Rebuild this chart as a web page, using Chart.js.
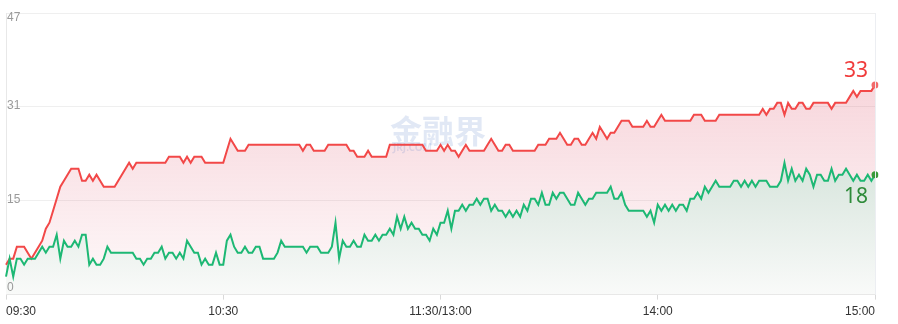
<!DOCTYPE html>
<html>
<head>
<meta charset="utf-8">
<script src="https://cdn.jsdelivr.net/npm/chart.js@4.4.0/dist/chart.umd.min.js"></script>
<style>
    html, body { margin: 0; padding: 0; background: #fff; }
    #wrap { width: 898px; height: 324px; }
</style>
</head>
<body>
<div id="wrap"><canvas id="mychart" width="898" height="324"></canvas></div>
<script>
// number of rising / falling stocks, one value per trading minute (09:30-11:30, 13:01-15:00)
const riseCount = [
    5, 6, 6, 8, 8, 8, 7, 6, 7, 8,
    9, 11, 12, 14, 16, 18, 19, 20, 21, 21,
    21, 19, 19, 20, 19, 20, 19, 18, 18, 18,
    18, 19, 20, 21, 22, 21, 22, 22, 22, 22,
    22, 22, 22, 22, 22, 23, 23, 23, 23, 22,
    23, 22, 23, 23, 23, 22, 22, 22, 22, 22,
    22, 24, 26, 25, 24, 24, 24, 25, 25, 25,
    25, 25, 25, 25, 25, 25, 25, 25, 25, 25,
    25, 25, 24, 25, 25, 24, 24, 24, 24, 25,
    25, 25, 25, 25, 25, 24, 24, 23, 23, 23,
    24, 23, 23, 23, 23, 23, 25, 25, 25, 25,
    25, 25, 25, 25, 25, 25, 24, 24, 24, 24,
    25, 24, 25, 24, 24, 23, 24, 25, 24, 24,
    24, 24, 24, 25, 26, 25, 24, 24, 25, 25,
    24, 24, 24, 24, 24, 24, 24, 25, 25, 25,
    26, 26, 26, 27, 26, 25, 25, 26, 26, 25,
    25, 26, 27, 26, 28, 27, 26, 27, 27, 28,
    29, 29, 29, 28, 28, 28, 28, 29, 28, 28,
    29, 30, 29, 29, 29, 29, 29, 29, 29, 29,
    30, 30, 30, 29, 29, 29, 29, 30, 30, 30,
    30, 30, 30, 30, 30, 30, 30, 30, 30, 31,
    30, 31, 31, 32, 32, 30, 32, 31, 31, 32,
    32, 31, 31, 32, 32, 32, 32, 32, 31, 32,
    32, 32, 32, 33, 34, 33, 34, 34, 34, 34,
    35
];
const fallCount = [
    3, 6, 3, 6, 6, 5, 6, 6, 6, 7,
    8, 7, 8, 8, 10, 6, 9, 8, 8, 9,
    8, 10, 10, 5, 6, 5, 5, 6, 8, 7,
    7, 7, 7, 7, 7, 7, 6, 6, 5, 6,
    6, 7, 7, 8, 6, 7, 7, 6, 7, 6,
    9, 8, 7, 7, 5, 6, 5, 5, 7, 5,
    5, 9, 10, 8, 7, 7, 8, 7, 7, 8,
    8, 6, 6, 6, 6, 7, 9, 8, 8, 8,
    8, 8, 8, 7, 8, 8, 8, 7, 7, 7,
    8, 12, 6, 9, 8, 8, 9, 8, 8, 10,
    9, 9, 10, 9, 10, 10, 11, 10, 13, 11,
    13, 11, 12, 11, 11, 10, 10, 9, 11, 10,
    12, 12, 14, 11, 14, 14, 15, 14, 15, 15,
    16, 15, 16, 16, 14, 15, 14, 14, 13, 14,
    13, 14, 13, 15, 14, 16, 16, 15, 17, 15,
    15, 17, 16, 17, 17, 16, 15, 15, 17, 16,
    15, 16, 16, 17, 17, 17, 17, 18, 16, 16,
    17, 15, 14, 14, 14, 14, 14, 13, 14, 12,
    15, 14, 15, 14, 15, 14, 15, 15, 14, 16,
    16, 17, 16, 18, 17, 18, 19, 18, 18, 18,
    18, 19, 19, 18, 19, 18, 19, 18, 19, 19,
    19, 18, 18, 18, 19, 22, 19, 21, 19, 20,
    19, 21, 20, 18, 20, 20, 19, 19, 21, 19,
    20, 20, 21, 20, 19, 20, 19, 19, 20, 19,
    20
];

const xTickIndex = [0, 60, 120, 180, 240];
const xTickText = ['09:30', '10:30', '11:30/13:00', '14:00', '15:00'];
const yTickValues = [0, 15.67, 31.33, 47];
const yTickText = ['0', '15', '31', '47'];
const endLabels = ['33', '18'];   // rise, fall

const RED = '#f24848';
const GREEN = '#1db874';

function pad2(n) { return (n < 10 ? '0' : '') + n; }

function buildMinuteLabels() {
    const out = [];
    for (let m = 9 * 60 + 30; m <= 11 * 60 + 30; m++) out.push(pad2(Math.floor(m / 60)) + ':' + pad2(m % 60));
    for (let m = 13 * 60 + 1; m <= 15 * 60; m++) out.push(pad2(Math.floor(m / 60)) + ':' + pad2(m % 60));
    return out;
}

function redFill(context) {
    const { ctx, chartArea } = context.chart;
    if (!chartArea) return null;
    const g = ctx.createLinearGradient(0, chartArea.top, 0, chartArea.bottom);
    g.addColorStop(0, 'rgba(222, 80, 104, 0.30)');
    g.addColorStop(1, 'rgba(222, 80, 104, 0.03)');
    return g;
}

function greenFill(context) {
    const { ctx, chartArea } = context.chart;
    if (!chartArea) return null;
    const g = ctx.createLinearGradient(0, 150, 0, chartArea.bottom);
    g.addColorStop(0, 'rgb(212, 227, 218)');
    g.addColorStop(1, 'rgb(249, 250, 249)');
    return g;
}

function lastPointOnly(ctx) {
    return ctx.dataIndex === ctx.dataset.data.length - 1 ? 3.5 : 0;
}

const overlay = {
    id: 'overlay',
    beforeDatasetsDraw(chart) {
        // watermark, under the lines
        const ctx = chart.ctx;
        ctx.save();
        ctx.fillStyle = 'rgba(70, 115, 190, 0.16)';
        ctx.font = 'bold 32px "Noto Sans CJK SC"';
        ctx.textAlign = 'center';
        ctx.textBaseline = 'alphabetic';
        ctx.fillText('金融界', 438, 143);
        ctx.font = 'bold 10px "Noto Sans", sans-serif';
        ctx.textAlign = 'left';
        ctx.fillText('JRJ.COM', 393, 151);
        ctx.restore();
    },
    afterDraw(chart) {
        const ctx = chart.ctx;
        const area = chart.chartArea;
        const y = chart.scales.y;
        ctx.save();

        // right border
        ctx.strokeStyle = '#eceef2';
        ctx.lineWidth = 1;
        ctx.beginPath();
        ctx.moveTo(area.right + 0.5, area.top);
        ctx.lineTo(area.right + 0.5, area.bottom);
        ctx.stroke();

        // y labels inside the plot
        ctx.fillStyle = '#9a9a9a';
        ctx.font = '12px "Liberation Sans", sans-serif';
        ctx.textAlign = 'left';
        ctx.textBaseline = 'middle';
        yTickValues.forEach((v, i) => {
            let py = y.getPixelForValue(v) - 1;
            py = Math.max(area.top + 5, Math.min(area.bottom - 7, py));
            ctx.fillText(yTickText[i], area.left + 1, py);
        });

        // end value labels
        const redMeta = chart.getDatasetMeta(1);
        const greenMeta = chart.getDatasetMeta(0);
        const rp = redMeta.data[redMeta.data.length - 1];
        const gp = greenMeta.data[greenMeta.data.length - 1];
        ctx.font = '21px "Noto Sans", sans-serif';
        ctx.textAlign = 'right';
        ctx.textBaseline = 'alphabetic';
        ctx.fillStyle = '#f03c3c';
        ctx.fillText(endLabels[0], area.right - 7, rp.y - 8);
        ctx.fillStyle = '#2e8b3a';
        ctx.fillText(endLabels[1], area.right - 7, gp.y + 28);
        ctx.restore();
    }
};

const chartElement = document.getElementById('mychart');

new Chart(chartElement, {
    type: 'line',
    data: {
        labels: buildMinuteLabels(),
        datasets: [
            {
                label: 'fall',
                data: fallCount,
                borderColor: GREEN,
                borderWidth: 2,
                backgroundColor: greenFill,
                fill: 'origin',
                tension: 0,
                pointRadius: lastPointOnly,
                pointHoverRadius: 0,
                pointBorderWidth: 0,
                pointBackgroundColor: '#3a9a3a'
            },
            {
                label: 'rise',
                data: riseCount,
                borderColor: RED,
                borderWidth: 2,
                backgroundColor: redFill,
                fill: 'origin',
                tension: 0,
                pointRadius: lastPointOnly,
                pointHoverRadius: 0,
                pointBorderWidth: 0,
                pointBackgroundColor: '#f26a6a'
            }
        ]
    },
    options: {
        responsive: false,
        animation: false,
        devicePixelRatio: 1,
        layout: { padding: { left: 6, right: 23, top: 13, bottom: 0 } },
        plugins: {
            legend: { display: false },
            tooltip: { enabled: false },
            filler: { drawTime: 'beforeDatasetsDraw' }
        },
        scales: {
            x: {
                grid: { display: true, drawOnChartArea: false, drawTicks: true, tickLength: 5, color: '#d9d9d9' },
                border: { display: true, color: '#e6e6e6' },
                afterBuildTicks: scale => { scale.ticks = xTickIndex.map(v => ({ value: v })); },
                ticks: {
                    autoSkip: false,
                    maxRotation: 0,
                    align: 'inner',
                    padding: 5,
                    color: '#333',
                    font: { size: 12, family: '"Liberation Sans", sans-serif' },
                    callback: value => xTickText[xTickIndex.indexOf(value)]
                }
            },
            y: {
                min: 0,
                max: 47,
                grid: { color: '#efefef', drawTicks: false },
                border: { display: true, color: '#e8e8e8' },
                afterBuildTicks: scale => { scale.ticks = yTickValues.map(v => ({ value: v })); },
                ticks: { display: false }
            }
        }
    },
    plugins: [overlay]
});
</script>
</body>
</html>
